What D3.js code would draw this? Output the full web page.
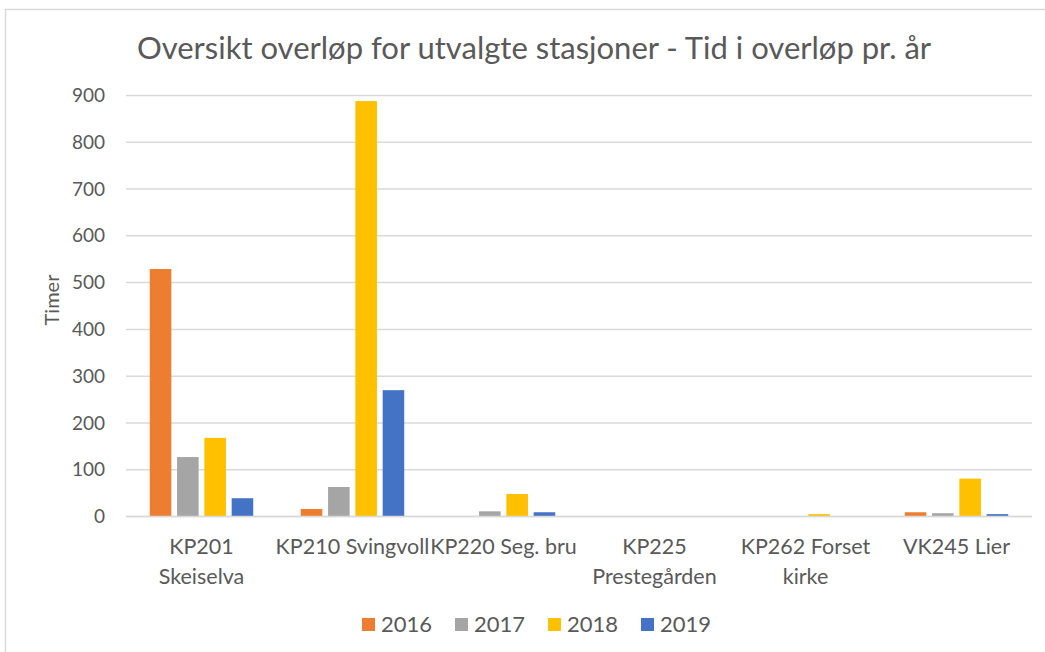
<!DOCTYPE html>
<html>
<head>
<meta charset="utf-8">
<script src="https://cdn.jsdelivr.net/npm/d3@7"></script>
<style>
  body { margin: 0; background: #fff; }
  svg text { font-family: Lato, "Open Sans", sans-serif; fill: #595959; }
</style>
</head>
<body>
<div id="chart"></div>
<script>
// chart data
var categories = ['KP201 Skeiselva', 'KP210 Svingvoll', 'KP220 Seg. bru', 'KP225 Prestegården', 'KP262 Forset kirke', 'VK245 Lier'];
// category labels as they wrap in the picture
var category_lines = [['KP201', 'Skeiselva'], ['KP210 Svingvoll'], ['KP220 Seg. bru'], ['KP225', 'Prestegården'], ['KP262 Forset', 'kirke'], ['VK245 Lier']];
var series_names = ['2016', '2017', '2018', '2019'];
var values_2016 = [528, 15, 0, 0, 0, 8];
var values_2017 = [126, 62, 10, 0, 0, 6];
var values_2018 = [167, 887, 47, 0, 4, 80];
var values_2019 = [38, 269, 8, 0, 0, 4];
var y_ticks = [0, 100, 200, 300, 400, 500, 600, 700, 800, 900];
var series_colors = ['#ED7D31', '#A5A5A5', '#FFC000', '#4472C4'];

var chart_title = 'Oversikt overløp for utvalgte stasjoner - Tid i overløp pr. år';
var y_title = 'Timer';

var width = 1045, height = 652;
var plot = { left: 126, right: 1032, top: 95, bottom: 516 };

var svg = d3.select('#chart').append('svg')
  .attr('width', width)
  .attr('height', height);

// outer frame (only left and top visible in the crop)
svg.append('rect')
  .attr('x', 5.5).attr('y', 9.5)
  .attr('width', width + 20).attr('height', height + 20)
  .attr('fill', 'none')
  .attr('stroke', '#D9D9D9')
  .attr('stroke-width', 1.5);

var all_values = [values_2016, values_2017, values_2018, values_2019];
var rows = categories.map(function (c, i) {
  return {
    category: c,
    values: series_names.map(function (s, j) {
      return { series: s, value: all_values[j][i], color: series_colors[j] };
    })
  };
});

var x0 = d3.scaleBand().domain(categories).range([plot.left, plot.right]).padding(0);
var x1 = d3.scaleBand().domain(series_names).range([0, x0.bandwidth()])
  .paddingInner(0.21).paddingOuter(0.87);
var y = d3.scaleLinear().domain([0, 900]).range([plot.bottom, plot.top]);

// gridlines
var yAxis = d3.axisLeft(y).tickValues(y_ticks)
  .tickSize(-(plot.right - plot.left)).tickPadding(21);
var gy = svg.append('g')
  .attr('transform', 'translate(' + plot.left + ',0)')
  .call(yAxis);
gy.select('.domain').remove();
gy.selectAll('.tick line').attr('stroke', '#D9D9D9').attr('stroke-width', 1.5);
gy.selectAll('.tick text')
  .style('font-size', '19px')
  .attr('dy', '0.35em');

// bars
var groups = svg.append('g').selectAll('g')
  .data(rows).enter().append('g')
  .attr('transform', function (d) { return 'translate(' + x0(d.category) + ',0)'; });

groups.selectAll('rect')
  .data(function (d) { return d.values; })
  .enter().append('rect')
  .attr('x', function (d) { return x1(d.series); })
  .attr('width', x1.bandwidth())
  .attr('y', function (d) { return y(d.value); })
  .attr('height', function (d) { return y(0) - y(d.value); })
  .attr('fill', function (d) { return d.color; });

// category axis line
svg.append('line')
  .attr('x1', plot.left).attr('x2', plot.right)
  .attr('y1', plot.bottom + 0.5).attr('y2', plot.bottom + 0.5)
  .attr('stroke', '#D9D9D9').attr('stroke-width', 1.5);

// category labels
var label_size = 21.5;
var labels = svg.append('g').selectAll('text')
  .data(categories).enter().append('text')
  .attr('text-anchor', 'middle')
  .attr('x', function (d) { return x0(d) + x0.bandwidth() / 2; })
  .attr('y', 554)
  .style('font-size', label_size + 'px');

labels.each(function (d, i) {
  var el = d3.select(this);
  category_lines[i].forEach(function (l, k) {
    el.append('tspan')
      .attr('x', x0(d) + x0.bandwidth() / 2)
      .attr('dy', k === 0 ? 0 : 30)
      .text(l);
  });
});

// title
svg.append('text')
  .attr('x', (plot.left + plot.right) / 2 - 45)
  .attr('y', 59)
  .attr('text-anchor', 'middle')
  .style('font-size', '31px')
  .text(chart_title);

// y axis title
svg.append('text')
  .attr('transform', 'translate(59,300) rotate(-90)')
  .attr('text-anchor', 'middle')
  .style('font-size', '20px')
  .text(y_title);

// legend
var legend_step = 93;
var legend_left = 362;
var legend = svg.append('g').selectAll('g')
  .data(series_names).enter().append('g')
  .attr('transform', function (d, i) { return 'translate(' + (legend_left + i * legend_step) + ',618)'; });

legend.append('rect')
  .attr('width', 13).attr('height', 13)
  .attr('fill', function (d, i) { return series_colors[i]; });

legend.append('text')
  .attr('x', 19).attr('y', 6.5)
  .attr('dy', '0.35em')
  .style('font-size', '22px')
  .text(function (d) { return d; });
</script>
</body>
</html>
